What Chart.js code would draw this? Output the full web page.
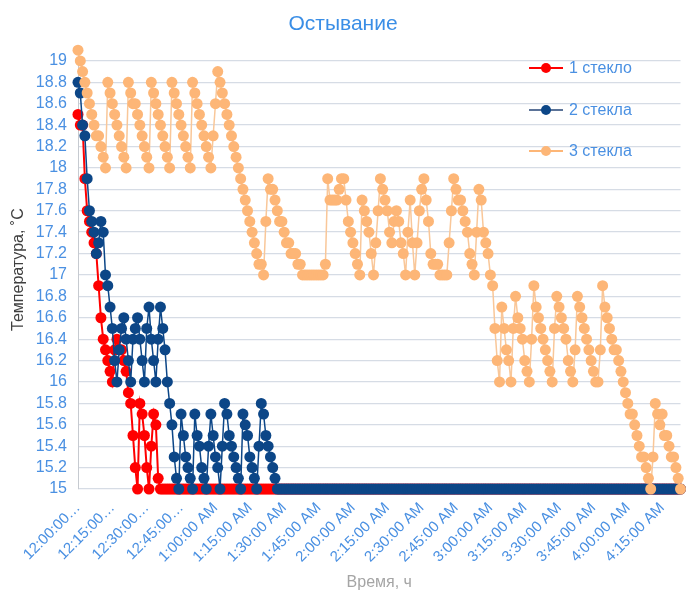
<!DOCTYPE html>
<html lang="ru">
<head>
  <meta charset="UTF-8" />
  <title>Остывание</title>
  <script src="https://cdn.jsdelivr.net/npm/chart.js"></script>
  <style>
    html, body { margin: 0; padding: 0; background: #fff; }
    #wrap { width: 686px; height: 590px; }
  </style>
</head>
<body>
  <div id="wrap"><canvas id="chart" width="686" height="590"></canvas></div>

  <script>
    // x: minutes from 12:00 AM, one reading per minute
    const timeLabels = [
      '12:00:00…', '12:15:00…', '12:30:00…', '12:45:00…',
      '1:00:00 AM', '1:15:00 AM', '1:30:00 AM', '1:45:00 AM',
      '2:00:00 AM', '2:15:00 AM', '2:30:00 AM', '2:45:00 AM',
      '3:00:00 AM', '3:15:00 AM', '3:30:00 AM', '3:45:00 AM',
      '4:00:00 AM', '4:15:00 AM'
    ];
    const yTicks = [15, 15.2, 15.4, 15.6, 15.8, 16, 16.2, 16.4, 16.6, 16.8, 17,
                    17.2, 17.4, 17.6, 17.8, 18, 18.2, 18.4, 18.6, 18.8, 19];
    const seriesNames = ['1 стекло', '2 стекла', '3 стекла'];

    const oneGlass = [
      18.5,18.4,18.4,17.9,17.6,17.5,17.4,17.3,17.2,16.9,16.6,16.4,16.3,16.2,16.1,
      16.0,16.3,16.4,16.3,16.3,16.2,16.1,
      15.9,15.8,15.5,15.2,15.0,15.8,15.7,15.5,15.2,15.0,15.4,15.7,15.6,15.1,
      15,15,15,15,15,15,15,15,15,15,15,15,15,15,15,15,15,15,15,15,
      15,15,15,15,15,15,15,15,15,15,15,15,15,15,15,15,15,15,15,15,
      15,15,15,15,15,15,15,15,15,15,15,15,15,15,15,15,15,15,15,15,
      15,15,15,15,15,15,15,15,15,15,15,15,15,15,15,15,15,15,15,15,
      15,15,15,15,15,15,15,15,15,15,15,15,15,15,15,15,15,15,15,15,
      15,15,15,15,15,15,15,15,15,15,15,15,15,15,15,15,15,15,15,15,
      15,15,15,15,15,15,15,15,15,15,15,15,15,15,15,15,15,15,15,15,
      15,15,15,15,15,15,15,15,15,15,15,15,15,15,15,15,15,15,15,15,
      15,15,15,15,15,15,15,15,15,15,15,15,15,15,15,15,15,15,15,15,
      15,15,15,15,15,15,15,15,15,15,15,15,15,15,15,15,15,15,15,15,
      15,15,15,15,15,15,15,15,15,15,15,15,15,15,15,15,15,15,15,15,
      15,15,15,15,15,15,15,15
    ];

    const twoGlass = [
      18.8,18.7,18.4,18.3,17.9,17.6,17.5,17.4,17.2,17.3,17.5,17.4,17.0,16.9,16.7,16.5,16.2,16.0,
      16.3,16.5,16.6,16.4,16.2,16.0,16.4,16.5,16.6,16.4,16.2,16.0,16.5,16.7,16.4,16.2,16.0,16.4,16.7,16.5,16.3,16.0,
      15.8,15.6,15.3,15.1,15.0,
      15.7,15.5,15.3,15.2,15.1,15.0,
      15.7,15.5,15.4,15.2,15.1,15.0,
      15.4,15.7,15.5,15.3,15.2,15.0,
      15.4,15.8,15.7,15.5,15.4,15.3,15.2,15.1,15.0,
      15.7,15.6,15.5,15.3,15.2,15.1,15.0,
      15.4,15.8,15.7,15.5,15.4,15.3,15.2,15.1,15.0,
      15,15,15,15,15,15,15,15,15,15,15,15,15,15,15,15,15,15,15,15,
      15,15,15,15,15,15,15,15,15,15,15,15,15,15,15,15,15,15,15,15,
      15,15,15,15,15,15,15,15,15,15,15,15,15,15,15,15,15,15,15,15,
      15,15,15,15,15,15,15,15,15,15,15,15,15,15,15,15,15,15,15,15,
      15,15,15,15,15,15,15,15,15,15,15,15,15,15,15,15,15,15,15,15,
      15,15,15,15,15,15,15,15,15,15,15,15,15,15,15,15,15,15,15,15,
      15,15,15,15,15,15,15,15,15,15,15,15,15,15,15,15,15,15,15,15,
      15,15,15,15,15,15,15,15,15,15,15,15,15,15,15,15,15,15,15,15,
      15,15,15,15,15,15,15,15,15,15,15,15,15,15,15,15
    ];

    const threeGlass = [
      19.1,19.0,18.9,18.8,18.7,18.6,18.5,18.4,18.3,18.3,18.2,18.1,18.0,
      18.8,18.7,18.6,18.5,18.4,18.3,18.2,18.1,18.0,
      18.8,18.7,18.6,18.6,18.5,18.4,18.3,18.2,18.1,18.0,
      18.8,18.7,18.6,18.5,18.4,18.3,18.2,18.1,18.0,
      18.8,18.7,18.6,18.5,18.4,18.3,18.2,18.1,18.0,
      18.8,18.7,18.6,18.5,18.4,18.3,18.2,18.1,18.0,
      18.3,18.6,
      18.9,18.8,18.7,18.6,18.5,18.4,18.3,18.2,18.1,18.0,17.9,17.8,17.7,17.6,17.5,17.4,17.3,17.2,17.1,17.1,17.0,
      17.5,17.9,17.8,17.8,17.7,17.6,17.5,17.5,17.4,17.3,17.3,17.2,17.2,17.2,17.1,17.1,
      17.0,17.0,17.0,17.0,17.0,17.0,17.0,17.0,17.0,17.0,
      17.1,17.9,17.7,17.7,17.7,17.7,17.8,17.9,17.9,17.7,17.5,17.4,17.3,17.2,17.1,17.0,
      17.7,17.6,17.5,17.4,17.2,17.0,
      17.3,17.6,17.9,17.8,17.7,17.6,17.4,17.3,17.5,17.6,17.5,17.3,17.2,17.0,
      17.4,17.7,17.3,17.0,
      17.3,17.6,17.8,17.9,17.7,17.5,17.2,17.1,17.1,17.1,17.0,17.0,17.0,17.0,
      17.3,17.6,17.9,17.8,17.7,17.7,17.6,17.5,17.4,17.2,17.1,17.0,
      17.4,17.8,17.7,17.4,17.3,17.2,17.0,16.9,
      16.5,16.2,16.0,
      16.7,16.5,16.3,16.2,16.0,
      16.5,16.8,16.6,16.5,16.4,16.2,16.1,16.0,
      16.4,16.9,16.7,16.6,16.5,16.4,16.3,16.2,16.1,16.0,
      16.5,16.8,16.7,16.6,16.5,16.4,16.2,16.1,16.0,
      16.3,16.8,16.7,16.6,16.5,16.4,16.3,16.2,16.1,16.0,16.0,
      16.3,16.9,16.7,16.6,16.5,16.4,16.3,16.3,16.2,16.1,16.0,
      15.9,15.8,15.7,15.7,15.6,15.5,15.4,15.3,15.3,15.2,15.1,15.0,
      15.3,15.8,15.7,15.6,15.7,15.5,15.5,15.4,15.3,15.3,15.2,15.1,15.0
    ];

    const colors = {
      red: '#ff0000',
      blue: '#0c4687',
      orange: '#fdb677',
      orangeLine: '#f9c799'
    };
    const FONT = '"Liberation Sans", Arial, sans-serif';
    const tickBlue = '#4a90e2';

    const toPoints = arr => arr.map((v, i) => ({ x: i, y: v }));
    const lastIndex = threeGlass.length - 1;

    const overlayLegend = {
      id: 'overlayLegend',
      afterDraw(chart) {
        const ctx = chart.ctx;
        const items = [
          { y: 68, line: colors.red, dot: colors.red },
          { y: 110, line: '#5b7398', dot: colors.blue },
          { y: 151, line: colors.orange, dot: colors.orange }
        ];
        ctx.save();
        ctx.font = '16px ' + FONT;
        ctx.textBaseline = 'middle';
        items.forEach((it, k) => {
          ctx.strokeStyle = it.line;
          ctx.lineWidth = 2;
          ctx.beginPath();
          ctx.moveTo(529, it.y);
          ctx.lineTo(563, it.y);
          ctx.stroke();
          ctx.fillStyle = it.dot;
          ctx.beginPath();
          ctx.arc(546, it.y, 5, 0, Math.PI * 2);
          ctx.fill();
          ctx.fillStyle = tickBlue;
          ctx.fillText(seriesNames[k], 569, it.y + 1);
        });
        ctx.restore();
      }
    };

    new Chart(document.getElementById('chart').getContext('2d'), {
      type: 'line',
      data: {
        datasets: [
          {
            label: seriesNames[0],
            data: toPoints(oneGlass),
            borderColor: colors.red,
            backgroundColor: colors.red,
            pointBackgroundColor: colors.red,
            pointBorderColor: colors.red,
            borderWidth: 2,
            pointRadius: 5.5,
            pointBorderWidth: 0,
            order: 3
          },
          {
            label: seriesNames[1],
            data: toPoints(twoGlass),
            borderColor: colors.blue,
            backgroundColor: colors.blue,
            pointBackgroundColor: colors.blue,
            pointBorderColor: colors.blue,
            borderWidth: 1.5,
            pointRadius: 5.5,
            pointBorderWidth: 0,
            order: 2
          },
          {
            label: seriesNames[2],
            data: toPoints(threeGlass),
            borderColor: colors.orangeLine,
            backgroundColor: colors.orange,
            pointBackgroundColor: colors.orange,
            pointBorderColor: colors.orange,
            borderWidth: 1.5,
            pointRadius: 5.5,
            pointBorderWidth: 0,
            order: 1
          }
        ]
      },
      options: {
        responsive: false,
        animation: false,
        devicePixelRatio: 1,
        layout: { padding: 0 },
        elements: { line: { tension: 0 } },
        datasets: { line: { clip: false } },
        scales: {
          x: {
            type: 'linear',
            min: 0,
            max: lastIndex,
            grid: { display: false },
            border: { display: false },
            afterBuildTicks: scale => {
              scale.ticks = timeLabels.map((_, k) => ({ value: k * 15 }));
            },
            afterFit: scale => { scale.height = 101; },
            ticks: {
              autoSkip: false,
              maxRotation: 45,
              minRotation: 45,
              padding: 2,
              color: tickBlue,
              font: { family: FONT, size: 15 },
              callback: v => timeLabels[Math.round(v / 15)] ?? ''
            },
            title: {
              display: true,
              text: 'Время, ч',
              color: '#a5a5a5',
              font: { family: FONT, size: 16 },
              padding: { top: 0, bottom: -2 }
            }
          },
          y: {
            min: 15,
            max: 19.1,
            grid: { color: '#d6dce5', lineWidth: 1.3, drawTicks: false },
            border: { color: '#c6cad0' },
            afterBuildTicks: scale => {
              scale.ticks = yTicks.map(v => ({ value: v }));
            },
            afterFit: scale => { scale.width = 78; },
            ticks: {
              autoSkip: false,
              padding: 11,
              color: tickBlue,
              font: { family: FONT, size: 16 },
              callback: v => String(Math.round(v * 10) / 10)
            },
            title: {
              display: true,
              text: 'Температура, ˚С',
              color: '#404040',
              font: { family: FONT, size: 16 },
              padding: { top: 9, bottom: 0 }
            }
          }
        },
        plugins: {
          legend: { display: false },
          tooltip: { enabled: false },
          title: {
            display: true,
            text: 'Остывание',
            color: '#3a8ee6',
            font: { family: FONT, size: 21, weight: 'normal' },
            padding: { top: 12, bottom: 13 }
          }
        }
      },
      plugins: [overlayLegend]
    });
  </script>
</body>
</html>
